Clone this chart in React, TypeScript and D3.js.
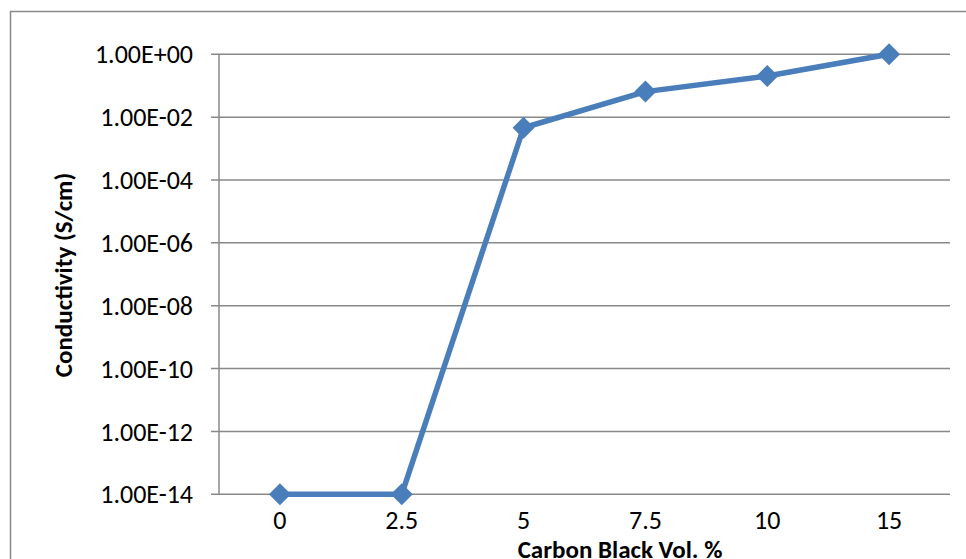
import React from "react";
import * as d3 from "d3";

const categories = ["0", "2.5", "5", "7.5", "10", "15"];
const conductivity = [1e-14, 1e-14, 4.6e-3, 6.5e-2, 0.204, 1.0];
const yTicks = [1e0, 1e-2, 1e-4, 1e-6, 1e-8, 1e-10, 1e-12, 1e-14];
const xTitle = "Carbon Black Vol. %";
const yTitle = "Conductivity (S/cm)";

const W = 966;
const H = 559;
const FONT = "Carlito, Calibri, Lato, sans-serif";
const BLUE = "#4A7EBB";
const GRID = "#888888";

function fmt(v: number): string {
  const e = Math.round(Math.log10(v));
  const s = e < 0 ? "-" : "+";
  const a = Math.abs(e);
  return "1.00E" + s + (a < 10 ? "0" + a : String(a));
}

export default function App() {
  const left = 219;
  const right = 950;
  const top = 54.3;
  const bottom = 494.3;

  const x = d3.scaleBand<string>().domain(categories).range([left, right]);
  const y = d3.scaleLog().domain([1e-14, 1]).range([bottom, top]);
  const cx = (c: string) => (x(c) as number) + x.bandwidth() / 2;

  const line = d3
    .line<number>()
    .x((_, i) => cx(categories[i]))
    .y((d) => y(d));

  const diamond = (px: number, py: number, r: number) =>
    `M${px},${py - r}L${px + r},${py}L${px},${py + r}L${px - r},${py}Z`;

  return (
    <svg
      width={W}
      height={H}
      style={{ position: "absolute", left: 0, top: 0, background: "#fff" }}
      fontFamily={FONT}
    >
      <rect x={10.5} y={11.5} width={1000} height={600} fill="#fff" stroke={GRID} strokeWidth={1.5} />
      {yTicks.map((t) => (
        <g key={t}>
          <line x1={211} x2={right} y1={y(t)} y2={y(t)} stroke={GRID} strokeWidth={1.5} />
          <text x={193} y={y(t)} dy="0.35em" textAnchor="end" fontSize={26} fill="#000">
            {fmt(t)}
          </text>
        </g>
      ))}
      <line x1={left} x2={left} y1={top} y2={bottom} stroke={GRID} strokeWidth={1.5} />
      {categories.map((c) => (
        <text key={c} x={cx(c)} y={520} dy="0.35em" textAnchor="middle" fontSize={26} fill="#000">
          {c}
        </text>
      ))}
      <path d={line(conductivity) || ""} fill="none" stroke={BLUE} strokeWidth={5.5} strokeLinejoin="round" />
      {conductivity.map((v, i) => (
        <path key={i} d={diamond(cx(categories[i]), y(v), 11)} fill={BLUE} />
      ))}
      <text x={620} y={558} textAnchor="middle" fontSize={25} fontWeight="bold" fill="#000">
        {xTitle}
      </text>
      <text
        transform={`translate(72,275) rotate(-90)`}
        textAnchor="middle"
        fontSize={25}
        fontWeight="bold"
        fill="#000"
      >
        {yTitle}
      </text>
    </svg>
  );
}
